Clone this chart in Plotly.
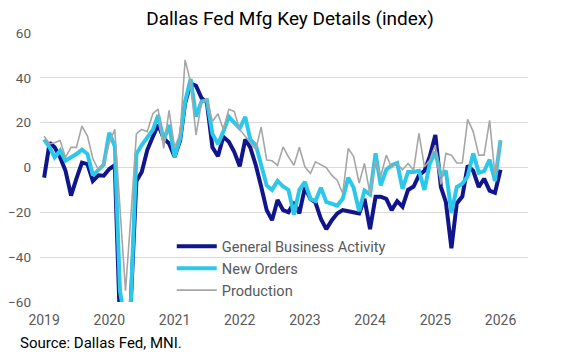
import pandas as pd
import plotly.graph_objects as go

dates = pd.date_range("2019-01-01", periods=85, freq="MS")

general_business_activity = [
    -4.5, 11, 9, 4.5, -1.5, -12.5, -5, 2.2, 1.5, -6, -3.5, -3.7,
    -0.7, 1, -70, -74, -60, -6, -2, 7.8, 13.7, 19, 13, 10.7,
    4.8, 12, 28.7, 37.5, 36.5, 31, 29, 9, 5, 13.7, 11.5, 7,
    0.5, 12.5, 9, 1, -8.5, -19, -23.5, -14.5, -19, -20, -15.5, -20.5,
    -9, -14, -15.5, -23, -27.5, -23.5, -20.5, -19, -19.5, -20, -20.5, -14,
    -27.5, -13, -13, -14, -19, -15, -17.5, -10, -8.5, -3.5, -1.5, 5,
    14.5, -8.7, -15.5, -36, -16, -13, 0.8, -1.5, -8.7, -5, -10.3, -11.3,
    -1,
]

new_orders = [
    12.5, 9, 4.5, 7.5, 3, 4.5, 6, 8, 6, -3.5, -1.3, 1.3,
    15.5, 9.5, -55, -70, -60, 6, 10, 13.7, 16.7, 23.4, 12, 19,
    4.8, 13, 29.4, 39.5, 22.7, 29.5, 30, 15, 10.5, 16, 22.6, 20,
    17.5, 22.6, 12.5, 10, 1.5, -8, -10, -6, -8.5, -10, -21, -10,
    -6.4, -14, -15, -9, -15.4, -16, -17, -14, -4.5, -9, -19.5, -10.3,
    -12, 6.3, -8, -1, 1, 2, -9.5, -2, -2, -1.5, -10, 1.8,
    7, -4, -1.5, -20.3, -8.7, -7.2, -4, 6.3, -2.3, -1.6, 3.5, -6,
    12.2,
]

production = [
    14, 10.5, 11, 12, 4.5, 9, 9, 18.5, 14, 4, -1, 1.5,
    11, 17, -18, -55, -22, 15, 17, 16, 24, 26, 8.5, 25.5,
    9, 15, 48, 38, 14.5, 29, 30.5, 20.5, 24, 17, 26, 25,
    17, 14, 11, 8, 18, 3.3, 3, 1, 9.2, 4.7, 1, 9,
    0.3, -2.7, 2.5, 1.2, 0, -3.5, -5.7, -11.6, 8.5, 5, -7, 1.8,
    -12, 3, -4, 5.5, 0, 1.8, -1, 1.8, -1.2, 15.2, 0.3, 3.4,
    10, -7.5, 6.3, 5.5, 2, 2, 21.5, 16, 5.5, 5.5, 21, -3.4,
    12,
]

series_names = ["General Business Activity", "New Orders", "Production"]
series_colors = ["#11158C", "#2CC8EA", "#A6A6A6"]
series_widths = [4, 4, 1.6]

fig = go.Figure()
for name, vals, col, w in zip(series_names,
                              [general_business_activity, new_orders, production],
                              series_colors, series_widths):
    fig.add_trace(go.Scatter(x=dates, y=vals, mode="lines", name=name,
                             line=dict(color=col, width=w)))

font_family = "Roboto, Arial, sans-serif"

# page body adds an 8px margin, so the figure is sized to fit the 567x355 window
fig.update_layout(
    width=559, height=347,
    margin=dict(l=32, r=39, t=25, b=53),
    paper_bgcolor="white", plot_bgcolor="white",
    title=dict(text="Dallas Fed Mfg Key Details (index)", x=0.5045, xanchor="center",
               xref="container", yref="container",
               y=0.971, yanchor="middle",
               font=dict(family=font_family, size=19, color="#000000")),
    showlegend=True,
    legend=dict(x=0.27, y=0.267, xanchor="left", yanchor="top",
                bgcolor="rgba(0,0,0,0)",
                font=dict(family=font_family, size=14.6, color="#595959"),
                itemwidth=40, tracegroupgap=0),
    font=dict(family=font_family),
)

fig.update_xaxes(
    type="date",
    range=["2018-12-09", "2026-06-04"],
    tick0="2019-01-01", dtick="M12", tickformat="%Y",
    showgrid=False, showline=False, zeroline=False, ticks="",
    ticklabelstandoff=8, automargin=False,
    tickfont=dict(family=font_family, size=14, color="#595959"),
)
fig.update_yaxes(
    range=[-60, 60], dtick=20,
    showgrid=True, gridcolor="#D9D9D9", gridwidth=1.3,
    zeroline=False, showline=False, ticks="",
    ticklabelstandoff=8, automargin=False,
    tickfont=dict(family=font_family, size=13.5, color="#595959"),
)

fig.add_annotation(text="Source: Dallas Fed, MNI.", xref="paper", yref="paper",
                   x=-0.045, y=-0.152, xanchor="left", yanchor="middle", showarrow=False,
                   font=dict(family=font_family, size=15, color="#000000"))

fig.write_html("out.html")
